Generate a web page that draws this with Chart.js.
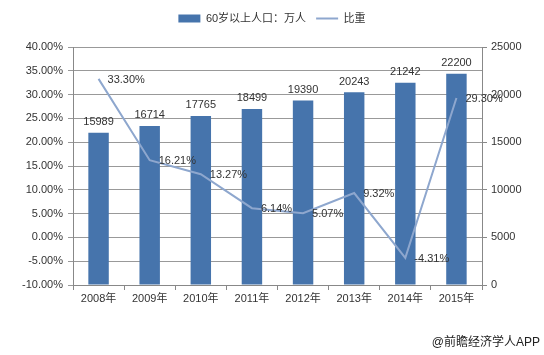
<!DOCTYPE html>
<html><head><meta charset="utf-8">
<script src="https://cdn.jsdelivr.net/npm/chart.js@4"></script>
<style>html,body{margin:0;padding:0;background:#fff}#wrap{width:544px;height:355px;position:relative}</style>
</head><body><div id="wrap"><canvas id="c" width="544" height="355"></canvas></div>
<script>
const categories = ['2008年','2009年','2010年','2011年','2012年','2013年','2014年','2015年'];
const population = [15989,16714,17765,18499,19390,20243,21242,22200];
const ratio = [33.30,16.21,13.27,6.14,5.07,9.32,-4.31,29.30];
const ratioLabels = ['33.30%','16.21%','13.27%','6.14%','5.07%','9.32%','-4.31%','29.30%'];
const barName = '60岁以上人口：万人';
const lineName = '比重';
const source = '@前瞻经济学人APP';

const FONT = "'Liberation Sans','Noto Sans CJK SC',sans-serif";
const TXT = '#333333';

const legendMargin = {
  id: 'legendMargin',
  beforeInit(chart) {
    const lg = chart.legend;
    if (!lg) return;
    const fit = lg.fit;
    lg.fit = function () { fit.call(this); this.height += 13; };
  }
};

const labelPlugin = {
  id: 'labels',
  afterDatasetsDraw(chart) {
    const ctx = chart.ctx;
    ctx.save();
    ctx.font = '11px ' + FONT;
    ctx.fillStyle = TXT;
    const bm = chart.getDatasetMeta(0);
    ctx.textAlign = 'center'; ctx.textBaseline = 'bottom';
    bm.data.forEach((el, i) => ctx.fillText(String(population[i]), el.x, el.y - 5));
    const lm = chart.getDatasetMeta(1);
    ctx.textAlign = 'left'; ctx.textBaseline = 'middle';
    lm.data.forEach((el, i) => ctx.fillText(ratioLabels[i], el.x + 9, el.y + 1));
    ctx.font = '12px ' + FONT;
    ctx.fillStyle = '#222';
    ctx.textAlign = 'right'; ctx.textBaseline = 'middle';
    ctx.fillText(source, 540, 343);
    ctx.restore();
  }
};

new Chart(document.getElementById('c'), {
  data: {
    labels: categories,
    datasets: [
      { type: 'bar', label: barName, data: population, yAxisID: 'y1',
        backgroundColor: '#4674AC', barPercentage: 0.5, categoryPercentage: 0.8, order: 2,
        pointStyle: 'rect' },
      { type: 'line', label: lineName, data: ratio, yAxisID: 'y',
        borderColor: '#8EA7CE', backgroundColor: '#8EA7CE', borderWidth: 2, pointRadius: 0,
        tension: 0, order: 1, pointStyle: 'line' }
    ]
  },
  plugins: [legendMargin, labelPlugin],
  options: {
    responsive: false, animation: false,
    layout: { padding: { top: 3, left: 0, right: 0, bottom: 0 } },
    plugins: {
      legend: { display: true, position: 'top',
        labels: { usePointStyle: true, pointStyleWidth: 22, boxHeight: 8, font: { size: 11, family: FONT }, color: TXT, padding: 10,
          sort: (a, b) => a.datasetIndex - b.datasetIndex } },
      tooltip: { enabled: false }
    },
    scales: {
      x: {
        afterFit(s) { s.height = 70; },
        grid: { offset: true, drawOnChartArea: false, tickLength: 5, color: '#888' },
        border: { color: '#888' },
        ticks: { font: { size: 11, family: FONT }, color: TXT, padding: 2, maxRotation: 0 }
      },
      y: {
        position: 'left', min: -10, max: 40,
        afterFit(s) { s.width = 73; },
        grid: { color: '#999', tickLength: 5 },
        border: { color: '#888' },
        ticks: { stepSize: 5, padding: 5, font: { size: 11, family: FONT }, color: TXT,
          callback: v => v.toFixed(2) + '%' }
      },
      y1: {
        position: 'right', min: 0, max: 25000,
        afterFit(s) { s.width = 62; },
        grid: { drawOnChartArea: false, tickLength: 5, color: '#888' },
        border: { color: '#888' },
        ticks: { stepSize: 5000, padding: 4, font: { size: 11, family: FONT }, color: TXT,
          callback: v => String(v) }
      }
    }
  }
});
</script></body></html>
